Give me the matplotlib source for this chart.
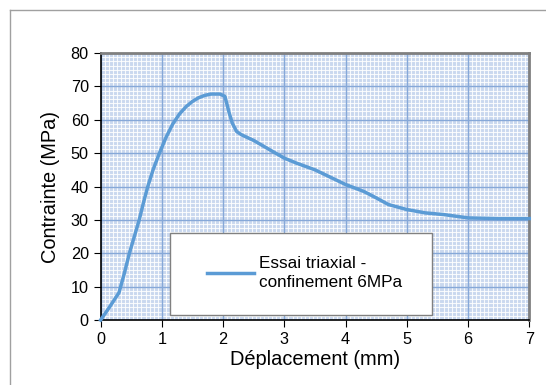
import matplotlib
matplotlib.use('Agg')
import matplotlib.pyplot as plt
import numpy as np
from matplotlib.patches import Rectangle
from matplotlib.lines import Line2D
from matplotlib.ticker import MultipleLocator

plt.rcParams['font.family'] = ['Liberation Sans', 'DejaVu Sans']

# courbe contrainte / deplacement
deplacement = [0, 0.15, 0.3, 0.38, 0.47, 0.55, 0.63, 0.7, 0.77, 0.86, 0.96, 1.07, 1.18,
               1.29, 1.4, 1.5, 1.6, 1.7, 1.8, 1.95, 2.03, 2.1, 2.15, 2.22, 2.3, 2.5,
               2.8, 3.0, 3.2, 3.5, 4.0, 4.3, 4.5, 4.7, 5.0, 5.3, 5.6, 6.0, 6.5, 7.0]
contrainte = [0, 4, 8.2, 13.5, 20, 25, 30, 35.2, 40, 45.2, 50, 54.8, 58.8,
              61.8, 64, 65.5, 66.6, 67.3, 67.7, 67.7, 67, 62, 59, 56.5, 55.5, 53.8,
              50.6, 48.5, 47, 45, 40.6, 38.5, 36.6, 34.6, 33.1, 32.1, 31.6, 30.6, 30.4, 30.4]
label = 'Essai triaxial -\nconfinement 6MPa'

fig = plt.figure(figsize=(5.46, 3.85), dpi=100)
ax = fig.add_axes([0.1843, 0.1688, 0.7851, 0.6935])

# papier millimetre : fond bleu clair + fines lignes blanches
ax.set_facecolor('#c9d8ef')
ax.vlines(np.arange(0, 7, 1 / 15), 0, 80, color='white', lw=0.8, alpha=0.85, zorder=0.3)
ax.hlines(np.arange(0, 80, 1.25), 0, 7, color='white', lw=0.8, alpha=0.85, zorder=0.3)
ax.xaxis.set_major_locator(MultipleLocator(1))
ax.yaxis.set_major_locator(MultipleLocator(10))
ax.grid(which='major', color='#86a8d8', lw=1.0)
ax.set_axisbelow('line')

ax.plot(deplacement, contrainte, color='#5b9bd5', lw=2.5, zorder=3, clip_on=False)

ax.set_xlim(0, 7)
ax.set_ylim(0, 80)
ax.tick_params(which='major', labelsize=11.7, length=5, direction='out', colors='black')
ax.set_xlabel('Déplacement (mm)', fontsize=14.4, labelpad=2)
ax.set_ylabel('Contrainte (MPa)', fontsize=14.4, labelpad=8)

for s in ['left', 'bottom']:
    ax.spines[s].set_color('black')
    ax.spines[s].set_linewidth(1.2)
for s in ['top', 'right']:
    ax.spines[s].set_color('#808080')
    ax.spines[s].set_linewidth(2)

# boite de legende
ax.add_patch(Rectangle((0.1626, 0.019), 0.611, 0.307, transform=ax.transAxes,
                       facecolor='white', edgecolor='#808080', lw=1, zorder=4))
leg = ax.legend([Line2D([], [], color='#5b9bd5', lw=2.5)], [label],
                loc='center', bbox_to_anchor=(0.476, 0.175), frameon=False,
                fontsize=12.3, handlelength=2.7, handletextpad=0.3)
leg.get_texts()[0].set_linespacing(1.35)
leg.set_zorder(5)

# cadre exterieur
fig.add_artist(Line2D([0.019, 0.019], [0, 0.974], color='#a0a0a0', lw=1))
fig.add_artist(Line2D([0.019, 1], [0.974, 0.974], color='#a0a0a0', lw=1))

fig.savefig('out.png', dpi=100)
